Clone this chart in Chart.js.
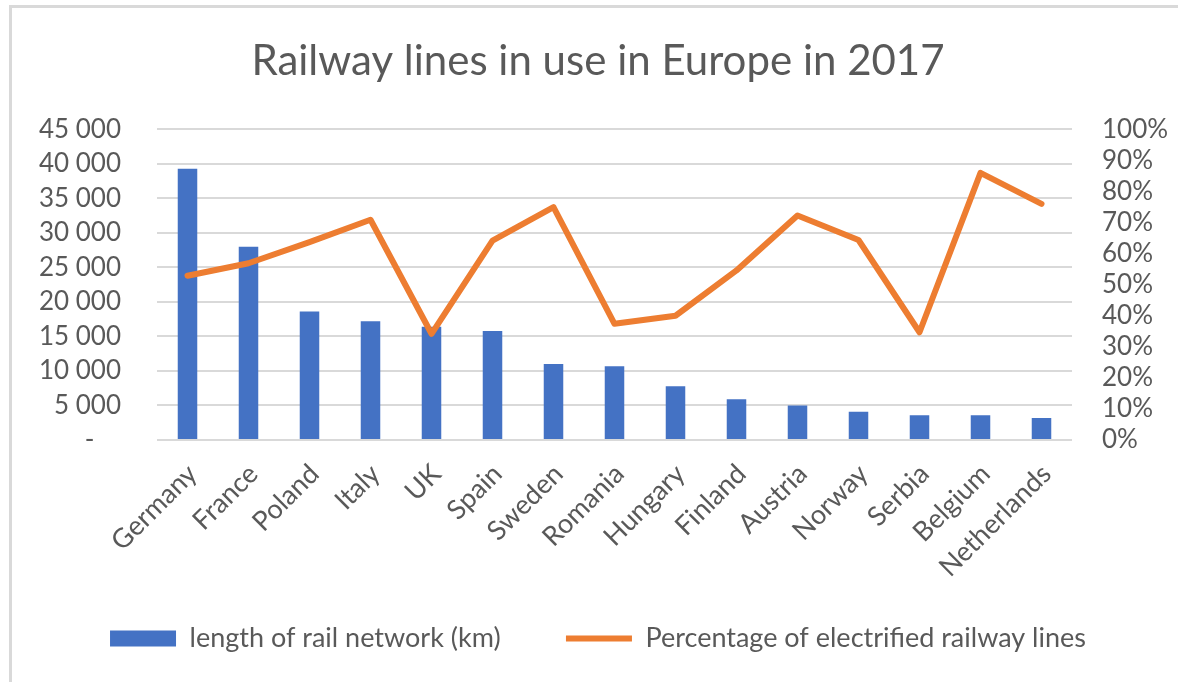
<!DOCTYPE html>
<html>
<head>
<meta charset="utf-8">
<script src="https://cdn.jsdelivr.net/npm/chart.js@4"></script>
<style>
  body { margin: 0; background: #fff; }
  #moldura { position: absolute; left: 9px; top: 5px; width: 1300px; height: 800px;
             border-top: 3px solid #d9d9d9; border-left: 3px solid #d9d9d9; }
  #grafico-box { position: absolute; left: 0; top: 0; width: 1178px; height: 682px; }
</style>
</head>
<body>
<div id="moldura"></div>
<div id="grafico-box"><canvas id="grafico"></canvas></div>
<script>
// Dados do gráfico
const paises = ['Germany', 'France', 'Poland', 'Italy', 'UK', 'Spain', 'Sweden', 'Romania',
                'Hungary', 'Finland', 'Austria', 'Norway', 'Serbia', 'Belgium', 'Netherlands'];
const extensaoKm = [39300, 28000, 18600, 17200, 16400, 15800, 11000, 10700,
                    7800, 5900, 5000, 4100, 3600, 3600, 3200];
const eletrificadas = [52.9, 56.9, 63.7, 70.9, 34.2, 64.2, 75.0, 37.4,
                       40.0, 54.6, 72.3, 64.4, 34.7, 86.0, 76.0];
const serieNomes = ['length of rail network (km)', 'Percentage of electrified railway lines'];
const titulo = 'Railway lines in use in Europe in 2017';

const cinza = '#595959';
const fonte = 'Lato';

// formata 45000 -> "45 000", zero vira "-"
function fmtKm(v) {
    if (v === 0) return '-    ';
    return String(v).replace(/\B(?=(\d{3})+(?!\d))/g, ' ');
}

// legenda padrão, com um espaço maior depois do primeiro item
function legendaItens(chart) {
    const itens = Chart.defaults.plugins.legend.labels.generateLabels(chart);
    itens.forEach(it => { if (it.datasetIndex === 0) it.text += '        '; });
    return itens;
}

const ctx = document.getElementById('grafico').getContext('2d');
new Chart(ctx, {
    data: {
        labels: paises,
        datasets: [
            {
                type: 'bar',
                label: serieNomes[0],
                data: extensaoKm,
                backgroundColor: '#4472C4',
                borderWidth: 0,
                yAxisID: 'y',
                order: 1,
                pointStyle: 'rect',
                categoryPercentage: 1,
                barPercentage: 0.32
            },
            {
                type: 'line',
                label: serieNomes[1],
                data: eletrificadas,
                borderColor: '#ED7D31',
                backgroundColor: '#ED7D31',
                borderWidth: 6,
                borderJoinStyle: 'round',
                borderCapStyle: 'round',
                tension: 0,
                pointRadius: 0,
                pointStyle: 'line',
                yAxisID: 'y1',
                order: 0
            }
        ]
    },
    options: {
        responsive: true,
        maintainAspectRatio: false,
        animation: false,
        layout: { padding: { left: 18, right: 0, top: 0, bottom: 20 } },
        plugins: {
            tooltip: { enabled: false },
            title: {
                display: true,
                text: titulo,
                color: cinza,
                font: { family: fonte, size: 42, weight: 'normal' },
                padding: { top: 36, bottom: 43 }
            },
            legend: {
                position: 'bottom',
                labels: {
                    color: cinza,
                    font: { family: fonte, size: 27 },
                    usePointStyle: true,
                    pointStyleWidth: 66,
                    boxHeight: 16,
                    padding: 10,
                    generateLabels: legendaItens,
                    sort: (a, b) => a.datasetIndex - b.datasetIndex
                }
            }
        },
        scales: {
            x: {
                grid: { display: false, drawTicks: false },
                border: { display: false },
                ticks: {
                    color: cinza,
                    font: { family: fonte, size: 27 },
                    minRotation: 45,
                    maxRotation: 45,
                    autoSkip: false,
                    padding: 18,
                    labelOffset: 5
                },
                afterFit: (s) => { s.height = 175; }
            },
            y: {
                position: 'left',
                min: 0,
                max: 45000,
                grid: { color: '#d9d9d9', lineWidth: 2, drawTicks: false },
                border: { display: false },
                ticks: {
                    stepSize: 5000,
                    autoSkip: false,
                    color: cinza,
                    font: { family: fonte, size: 26 },
                    padding: 36,
                    callback: (v) => fmtKm(v)
                },
                afterFit: (s) => { s.width = 157 - 18; }
            },
            y1: {
                position: 'right',
                min: 0,
                max: 100,
                grid: { display: false, drawTicks: false },
                border: { display: false },
                ticks: {
                    stepSize: 10,
                    autoSkip: false,
                    color: cinza,
                    font: { family: fonte, size: 26 },
                    padding: 30,
                    callback: (v) => v + '%'
                },
                afterFit: (s) => { s.width = 1178 - 1072; }
            }
        }
    }
});
</script>
</body>
</html>
